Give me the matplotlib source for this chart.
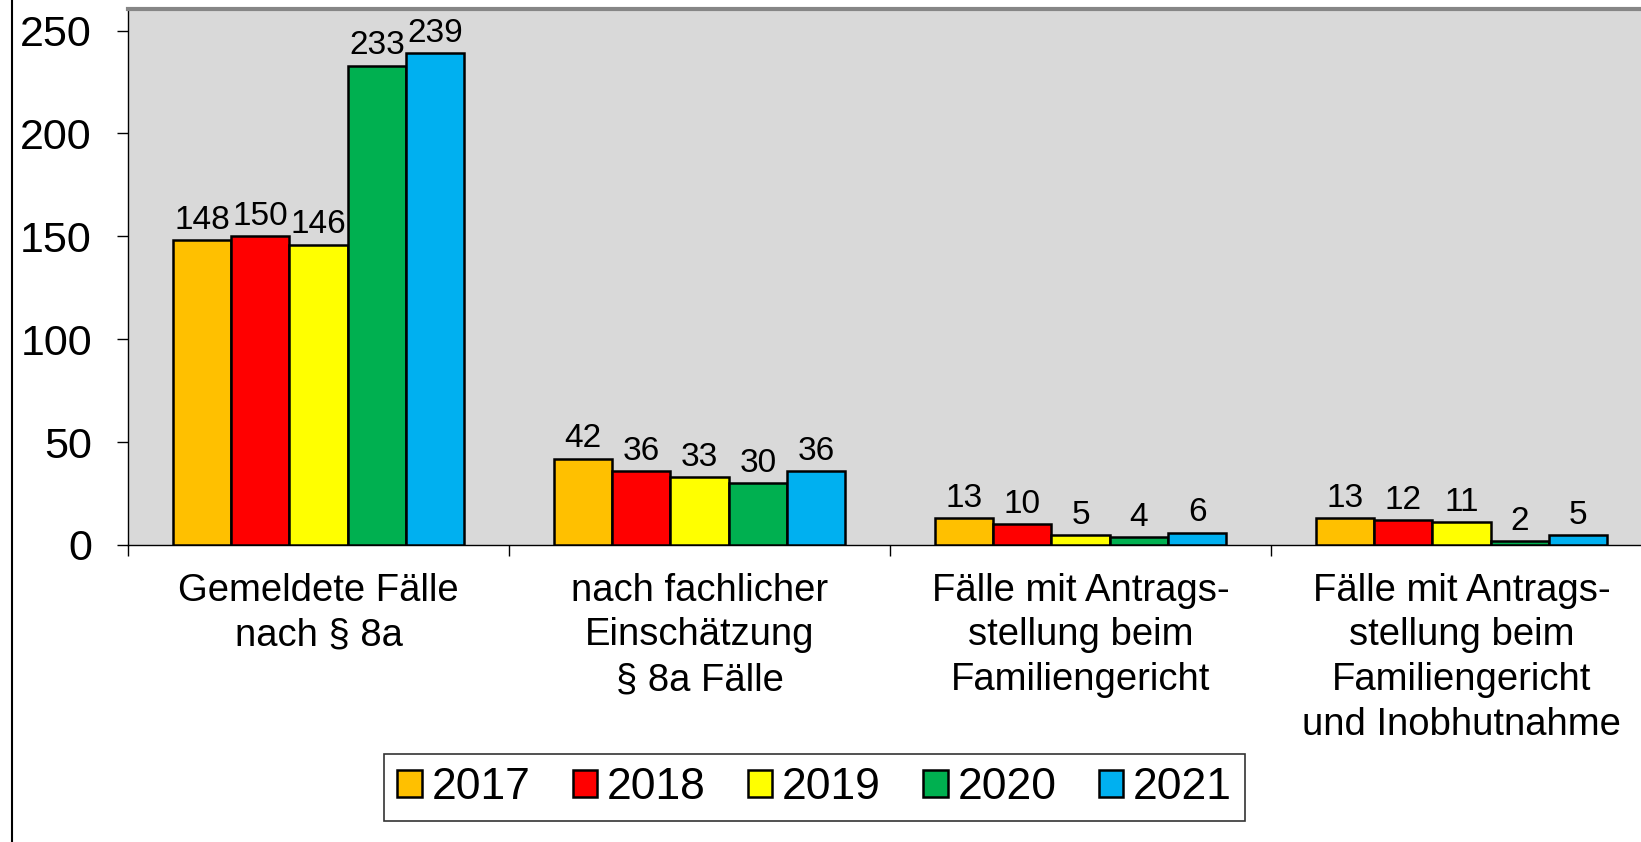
import matplotlib
matplotlib.use("Agg")
import matplotlib.pyplot as plt
from matplotlib.lines import Line2D
import numpy as np

categories = ["Gemeldete Fälle\nnach § 8a",
              "nach fachlicher\nEinschätzung\n§ 8a Fälle",
              "Fälle mit Antrags-\nstellung beim\nFamiliengericht",
              "Fälle mit Antrags-\nstellung beim\nFamiliengericht\nund Inobhutnahme"]
years = ["2017", "2018", "2019", "2020", "2021"]
v2017 = [148, 42, 13, 13]
v2018 = [150, 36, 10, 12]
v2019 = [146, 33, 5, 11]
v2020 = [233, 30, 4, 2]
v2021 = [239, 36, 6, 5]
series = [v2017, v2018, v2019, v2020, v2021]
colors = ["#FFC000", "#FF0000", "#FFFF00", "#00B050", "#00B0F0"]

plt.rcParams["font.family"] = ["Liberation Sans", "DejaVu Sans"]

W, H = 1641, 842
fig = plt.figure(figsize=(W / 100, H / 100), dpi=100)
# plot area runs past the right edge (the original is cropped)
ax = fig.add_axes([128 / W, (H - 545) / H, (1652 - 128) / W, (545 - 9) / H])
ax.set_facecolor("#D9D9D9")

x = np.arange(len(categories))
bw = 0.153
for i, (vals, col, yr) in enumerate(zip(series, colors, years)):
    bars = ax.bar(x + (i - 2) * bw, vals, bw, color=col, edgecolor="black", lw=1.8,
                  label=yr, zorder=3)
    ax.bar_label(bars, fontsize=24, padding=3)

ax.set_xlim(-0.5, len(categories) - 0.5)
ax.set_ylim(0, 260.5)
ax.set_yticks([0, 50, 100, 150, 200, 250])
ax.tick_params(axis="y", direction="out", length=8, width=1, labelsize=31, pad=18)
ax.set_xticks(x)
ax.set_xticklabels(categories, fontsize=27.5, linespacing=1.31)
ax.tick_params(axis="x", which="major", length=0, pad=20)
ax.set_xticks(np.arange(len(categories)) - 0.5, minor=True)
ax.tick_params(axis="x", which="minor", direction="out", length=8, width=1)

ax.spines["right"].set_visible(False)
ax.spines["top"].set_color("#868686"); ax.spines["top"].set_linewidth(3)
ax.spines["left"].set_color("black"); ax.spines["left"].set_linewidth(1)
ax.spines["bottom"].set_color("black"); ax.spines["bottom"].set_linewidth(1)

leg = fig.legend(loc="center", bbox_to_anchor=(814.5 / W, (H - 787.5) / H), ncol=5,
                 fontsize=32, frameon=True, fancybox=False, edgecolor="black",
                 handlelength=0.55, handleheight=0.55, handletextpad=0.22,
                 columnspacing=0.95, borderpad=0.3, borderaxespad=0)
leg.get_frame().set_linewidth(1.2)

fig.add_artist(Line2D([12 / W, 12 / W], [0, 1], color="black", lw=1.5))

fig.savefig("out.png", dpi=100)
